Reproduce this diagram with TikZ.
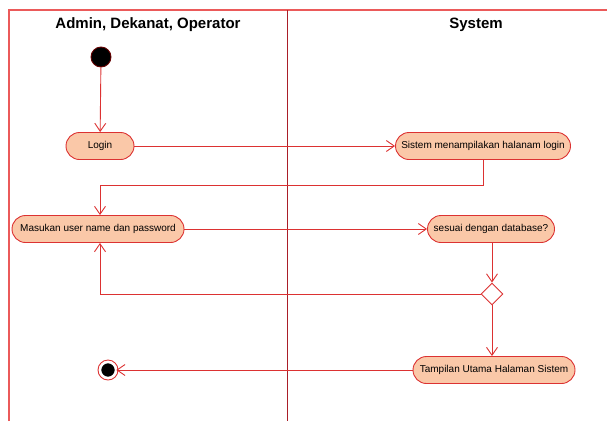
\documentclass[tikz,border=0pt]{standalone}
\usepackage{fontspec}
\setmainfont{Liberation Sans}
\usepackage{tikz}
\usetikzlibrary{arrows}
\usetikzlibrary {arrows.meta}
\usetikzlibrary{calc,positioning}
\usetikzlibrary{shapes}

\definecolor{garis}{RGB}{220,50,50}
\definecolor{isi}{RGB}{250,200,168}
\definecolor{bingkai}{RGB}{235,90,90}
\definecolor{pemisah}{RGB}{170,30,40}

\tikzset{
	aksi/.style={draw=garis,fill=isi,rectangle,rounded corners=13.5pt,minimum height=27pt,inner xsep=4pt,line width=0.9pt,font=\fontsize{10}{12}\selectfont},
	alur/.style={draw=garis,line width=0.9pt,-{Straight Barb[length=8pt,width=11pt]}},
	garisan/.style={draw=garis}
}

\begin{document}
\begin{tikzpicture}[x=1pt,y=-1pt]
			\useasboundingbox (0,0) rectangle (607,421);
			\begin{scope}
				% swimlanes
				\draw[bingkai,line width=1.4pt] (9,421) -- (9,10) -- (607,10);
				\draw[pemisah,line width=0.9pt] (287,10) -- (287,421);
				\node[font=\bfseries\fontsize{15}{17}\selectfont] (lane1) at (148,25) {Admin, Dekanat, Operator};
				\node[font=\bfseries\fontsize{15}{17}\selectfont] (lane2) at (476,25) {System};
			\end{scope}
			% nodes
			\node[circle,fill=black,draw=black!60!red,line width=0.9pt,minimum size=20pt,inner sep=0pt] (mulai) at (101,57) {};
			\node[aksi,minimum width=68pt] (login) at (100,146) {Login};
			\node[aksi,minimum width=175pt] (tampil) at (483,146) {Sistem menampilakan halanam login};
			\node[aksi,minimum width=172pt] (masuk) at (98,229) {Masukan user name dan password};
			\node[aksi,minimum width=127pt] (sesuai) at (491,229) {sesuai dengan database?};
			\node[diamond,draw=garis,fill=white,line width=0.9pt,minimum width=22pt,minimum height=22pt,inner sep=0pt] (cek) at (492,294) {};
			\node[aksi,minimum width=162pt] (utama) at (494,370) {Tampilan Utama Halaman Sistem};
			\node[circle,fill=black,minimum size=15pt,inner sep=0pt,draw=white,line width=1.5pt] (selesai) at (108,370) {};
			\draw[garis,line width=0.9pt] (selesai) circle (10pt);
			% connectors
			\draw[alur] (mulai) -- (login);
			\draw[alur] (login) -- (tampil);
			\draw[alur] (tampil.south) -- ++(0,25) -| (masuk.north -| login);
			\draw[alur] (masuk) -- (sesuai);
			\draw[alur] (sesuai.south -| cek) -- (cek.north);
			\draw[alur] (cek.west) -| (masuk.south -| login);
			\draw[alur] (cek.south) -- (utama.north -| cek);
			\draw[alur] (utama) -- (selesai.east);
\end{tikzpicture}
\end{document}
